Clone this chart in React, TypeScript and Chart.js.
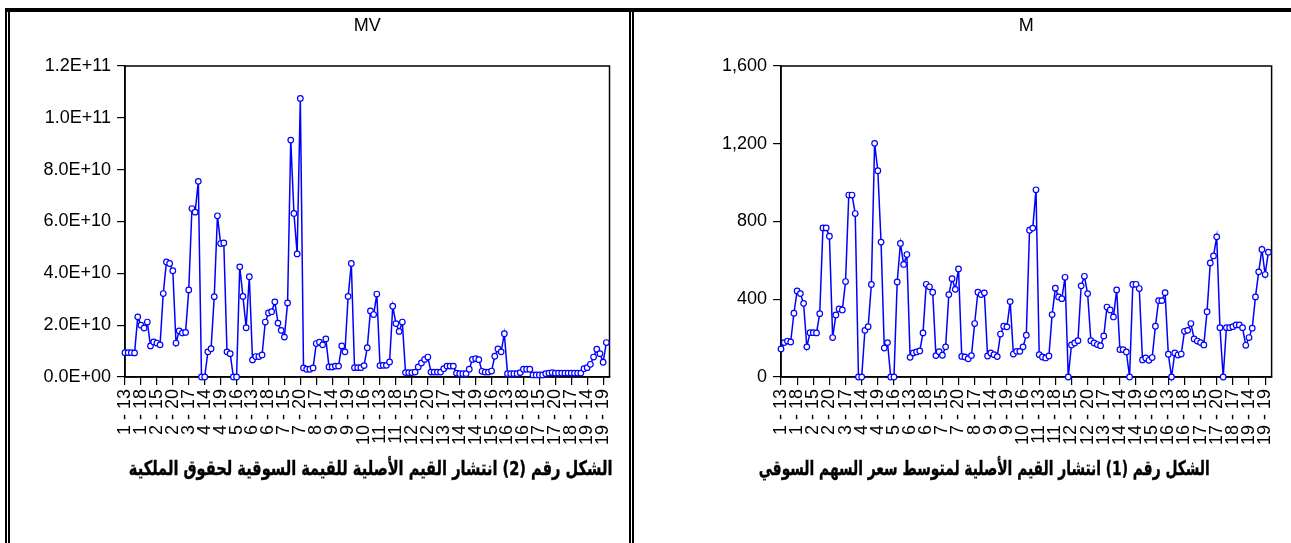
import React, { useEffect, useRef } from "react";
import { Chart, registerables } from "chart.js";

Chart.register(...registerables);

// ---------------- data ----------------
const firms = [1, 2, 3, 4, 5, 6, 7, 8, 9, 10, 11, 12, 13, 14, 15, 16, 17, 18, 19];
const years = [13, 14, 15, 16, 17, 18, 19, 20];
const categories: string[] = firms.flatMap((f) => years.map((y) => `${f} - ${y}`));
const labelEvery = 5;

// Market value of equity (MV), raw values
const mvValues = [
  0.94e10, 0.94e10, 0.94e10, 0.93e10, 2.32e10, 2.0e10, 1.89e10, 2.12e10,
  1.2e10, 1.35e10, 1.31e10, 1.24e10, 3.22e10, 4.44e10, 4.38e10, 4.1e10,
  1.31e10, 1.78e10, 1.7e10, 1.72e10, 3.36e10, 6.5e10, 6.36e10, 7.55e10,
  0, 0, 0.97e10, 1.09e10, 3.1e10, 6.22e10, 5.15e10, 5.17e10,
  0.97e10, 0.9e10, 0, 0, 4.25e10, 3.11e10, 1.9e10, 3.87e10,
  0.66e10, 0.79e10, 0.79e10, 0.85e10, 2.12e10, 2.47e10, 2.52e10, 2.9e10,
  2.08e10, 1.8e10, 1.54e10, 2.86e10, 9.14e10, 6.31e10, 4.75e10, 10.75e10,
  0.35e10, 0.3e10, 0.3e10, 0.35e10, 1.29e10, 1.34e10, 1.24e10, 1.47e10,
  0.39e10, 0.39e10, 0.42e10, 0.42e10, 1.2e10, 0.97e10, 3.11e10, 4.38e10,
  0.36e10, 0.36e10, 0.36e10, 0.44e10, 1.13e10, 2.55e10, 2.41e10, 3.2e10,
  0.44e10, 0.45e10, 0.45e10, 0.58e10, 2.73e10, 2.06e10, 1.76e10, 2.12e10,
  0.17e10, 0.17e10, 0.17e10, 0.19e10, 0.39e10, 0.54e10, 0.68e10, 0.77e10,
  0.19e10, 0.19e10, 0.19e10, 0.19e10, 0.32e10, 0.42e10, 0.42e10, 0.42e10,
  0.15e10, 0.13e10, 0.13e10, 0.13e10, 0.3e10, 0.68e10, 0.71e10, 0.67e10,
  0.22e10, 0.19e10, 0.19e10, 0.23e10, 0.8e10, 1.08e10, 0.97e10, 1.67e10,
  0.13e10, 0.13e10, 0.13e10, 0.13e10, 0.17e10, 0.3e10, 0.3e10, 0.3e10,
  0.08e10, 0.08e10, 0.08e10, 0.08e10, 0.13e10, 0.15e10, 0.17e10, 0.15e10,
  0.15e10, 0.15e10, 0.15e10, 0.15e10, 0.15e10, 0.15e10, 0.15e10, 0.15e10,
  0.32e10, 0.36e10, 0.49e10, 0.77e10, 1.07e10, 0.9e10, 0.57e10, 1.33e10,
];

// Average market share price (M)
const mValues = [
  144, 177, 185, 180, 328, 443, 429, 379,
  155, 228, 228, 227, 326, 767, 767, 724,
  203, 319, 350, 345, 491, 936, 936, 841,
  0, 0, 240, 259, 476, 1202, 1061, 694,
  149, 177, 0, 0, 489, 687, 579, 630,
  101, 124, 129, 134, 227, 477, 464, 436,
  110, 130, 112, 155, 424, 506, 451, 556,
  106, 103, 94, 110, 275, 436, 424, 433,
  108, 124, 115, 105, 221, 261, 258, 388,
  118, 132, 132, 155, 215, 755, 766, 963,
  115, 103, 98, 108, 321, 457, 412, 403,
  513, 0, 165, 175, 187, 469, 518, 429,
  187, 175, 167, 161, 211, 360, 345, 309,
  448, 141, 141, 129, 0, 476, 477, 455,
  88, 98, 86, 100, 261, 393, 393, 434,
  117, 0, 124, 113, 118, 235, 240, 275,
  196, 185, 177, 165, 336, 587, 623, 721,
  254, 0, 254, 254, 259, 268, 268, 254,
  163, 203, 251, 412, 541, 656, 527, 642,
];

const mvYTicks = [0, 2e10, 4e10, 6e10, 8e10, 1e11, 1.2e11];
const mvYLabels = ["0.0E+00", "2.0E+10", "4.0E+10", "6.0E+10", "8.0E+10", "1.0E+11", "1.2E+11"];
const mYTicks = [0, 400, 800, 1200, 1600];
const mYLabels = ["0", "400", "800", "1,200", "1,600"];

const captionMV = "الشكل رقم (2) انتشار القيم الأصلية للقيمة السوقية لحقوق الملكية";
const captionM = "الشكل رقم (1) انتشار القيم الأصلية لمتوسط سعر السهم السوقي";

// ---------------- chart ----------------
const FONT = "'Liberation Sans', Arial, sans-serif";

const framePlugin = {
  id: "frame",
  beforeDatasetsDraw(chart: any) {
    const { ctx, chartArea: a } = chart;
    ctx.save();
    ctx.strokeStyle = "#000";
    ctx.lineWidth = 1.5;
    ctx.strokeRect(a.left, a.top, a.right - a.left, a.bottom - a.top);
    ctx.restore();
  },
};

function makeConfig(
  title: string,
  values: number[],
  yTicks: number[],
  yLabels: string[],
  yWidth: number,
  padRight: number
): any {
  const tickIdx = categories.map((_, i) => i).filter((i) => i % labelEvery === 0);
  return {
    type: "line",
    data: {
      datasets: [
        {
          data: values.map((v, i) => ({ x: i, y: v })),
          borderColor: "#0000ff",
          borderWidth: 1.5,
          pointRadius: 2.8,
          pointBorderWidth: 1.2,
          pointBackgroundColor: "#ffffff",
          pointBorderColor: "#0000ff",
          tension: 0,
          clip: false,
        },
      ],
    },
    options: {
      animation: false,
      responsive: false,
      devicePixelRatio: 1,
      layout: { padding: { left: 0, right: padRight, top: 0, bottom: 0 } },
      plugins: {
        legend: { display: false },
        tooltip: { enabled: false },
        title: {
          display: true,
          text: title,
          fullSize: false,
          color: "#000",
          font: { family: FONT, size: 18, weight: "normal", lineHeight: 1.2 },
          padding: { top: 15, bottom: 29.4 },
        },
      },
      scales: {
        x: {
          type: "linear",
          min: 0,
          max: 152,
          grid: { display: true, drawOnChartArea: false, drawTicks: true, tickLength: 8, color: "#000", lineWidth: 1.2 },
          border: { display: true, color: "#000", width: 1.5 },
          ticks: {
            autoSkip: false,
            maxRotation: 90,
            minRotation: 90,
            padding: 4,
            color: "#000",
            font: { family: FONT, size: 18 },
            callback: (v: number) => categories[Math.round(v)] ?? "",
          },
          afterBuildTicks: (scale: any) => {
            scale.ticks = tickIdx.map((v) => ({ value: v }));
          },
          afterFit: (scale: any) => {
            scale.height = 78;
          },
        },
        y: {
          type: "linear",
          min: yTicks[0],
          max: yTicks[yTicks.length - 1],
          grid: { display: true, drawOnChartArea: false, drawTicks: true, tickLength: 8, color: "#000", lineWidth: 1.2 },
          border: { display: true, color: "#000", width: 1.5 },
          ticks: {
            padding: 6,
            color: "#000",
            font: { family: FONT, size: 18 },
            callback: (v: number) => {
              const k = yTicks.indexOf(v);
              return k >= 0 ? yLabels[k] : "";
            },
          },
          afterBuildTicks: (scale: any) => {
            scale.ticks = yTicks.map((v) => ({ value: v }));
          },
          afterFit: (scale: any) => {
            scale.width = yWidth;
          },
        },
      },
    },
    plugins: [framePlugin],
  };
}

function ChartCanvas(props: {
  left: number;
  width: number;
  height: number;
  config: () => any;
}) {
  const ref = useRef<HTMLCanvasElement | null>(null);
  useEffect(() => {
    if (!ref.current) return;
    const chart = new Chart(ref.current, props.config());
    return () => chart.destroy();
  }, []);
  return (
    <canvas
      ref={ref}
      width={props.width}
      height={props.height}
      style={{ position: "absolute", left: props.left, top: 0, width: props.width, height: props.height }}
    />
  );
}

const line = (left: number, top: number, width: number, height: number) => (
  <div style={{ position: "absolute", left, top, width, height, background: "#000" }} />
);

const captionStyle = (right: number, sx: number): React.CSSProperties => ({
  position: "absolute",
  top: 454,
  right: 1291 - right,
  direction: "rtl",
  whiteSpace: "nowrap",
  fontFamily: "'DejaVu Sans', sans-serif",
  fontWeight: "bold",
  fontSize: 20,
  lineHeight: "28px",
  color: "#000",
  WebkitTextStroke: "0.4px #000",
  transform: `scaleX(${sx})`,
  transformOrigin: "right center",
});

export default function App() {
  return (
    <div style={{ position: "relative", width: 1291, height: 543, overflow: "hidden", background: "#fff" }}>
      <style>{`html,body{margin:0;padding:0;background:#fff;}`}</style>
      <ChartCanvas
        left={0}
        width={629}
        height={455}
        config={() => makeConfig("MV", mvValues, mvYTicks, mvYLabels, 125, 16)}
      />
      <ChartCanvas
        left={633}
        width={658}
        height={455}
        config={() => makeConfig("M", mValues, mYTicks, mYLabels, 148, 16)}
      />
      <div style={captionStyle(612, 0.73)}>{captionMV}</div>
      <div style={captionStyle(1210, 0.69)}>{captionM}</div>
      {line(5, 8, 1286, 4)}
      {line(5, 8, 2, 535)}
      {line(8, 12, 2, 531)}
      {line(629, 12, 2, 531)}
      {line(632, 12, 2, 531)}
    </div>
  );
}
